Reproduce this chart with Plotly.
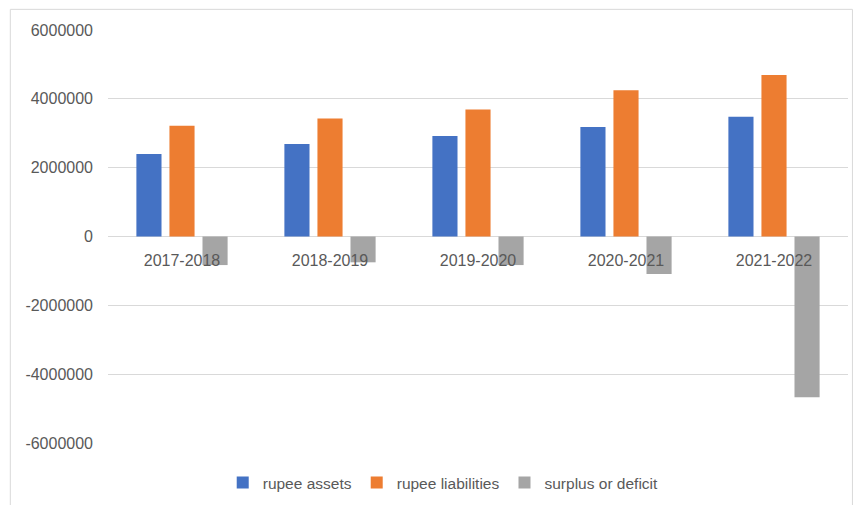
import plotly.graph_objects as go

years = ["2017-2018", "2018-2019", "2019-2020", "2020-2021", "2021-2022"]
rupee_assets = [2400000, 2690000, 2920000, 3180000, 3480000]
rupee_liabilities = [3220000, 3430000, 3690000, 4250000, 4690000]
surplus_or_deficit = [-830000, -750000, -830000, -1090000, -4670000]
y_ticks = [-6000000, -4000000, -2000000, 0, 2000000, 4000000, 6000000]

series = [
    ("rupee assets", rupee_assets, "#4472C4"),
    ("rupee liabilities", rupee_liabilities, "#ED7D31"),
    ("surplus or deficit", surplus_or_deficit, "#A5A5A5"),
]

font_family = "Liberation Sans, Arial, sans-serif"
text_color = "#595959"

fig = go.Figure()
for name, values, color in series:
    fig.add_trace(go.Bar(x=years, y=values, name=name, marker_color=color,
                         marker_line_width=0))

fig.update_layout(
    width=856, height=505,
    margin=dict(l=108, r=8, t=30, b=62, autoexpand=False),
    paper_bgcolor="white", plot_bgcolor="white",
    barmode="group", bargap=0.33, bargroupgap=0.24,
    font=dict(family=font_family, size=16, color=text_color),
    legend=dict(orientation="h", x=0.453, xanchor="center", xref="paper",
                y=(505 - 483) / 505, yanchor="middle", yref="container",
                bgcolor="rgba(0,0,0,0)",
                font=dict(size=15.5, color=text_color),
                itemwidth=30, traceorder="normal"),
    shapes=[dict(type="rect", xref="paper", yref="paper",
                 x0=-0.132, x1=1.006, y0=-0.25, y1=1.05,
                 line=dict(color="#D9D9D9", width=1), fillcolor="rgba(0,0,0,0)",
                 layer="below")],
)

fig.update_yaxes(
    range=[-6000000, 6000000], tickvals=y_ticks,
    ticktext=[str(v) for v in y_ticks],
    showgrid=True, gridcolor="#D9D9D9", gridwidth=1,
    zeroline=True, zerolinecolor="#D9D9D9", zerolinewidth=1,
    showline=False, ticks="", ticklabelstandoff=14,
)
fig.update_xaxes(
    anchor="free", position=0.5, showline=False, ticks="",
    showgrid=False, ticklabelstandoff=12,
)

fig.write_html("out.html")
